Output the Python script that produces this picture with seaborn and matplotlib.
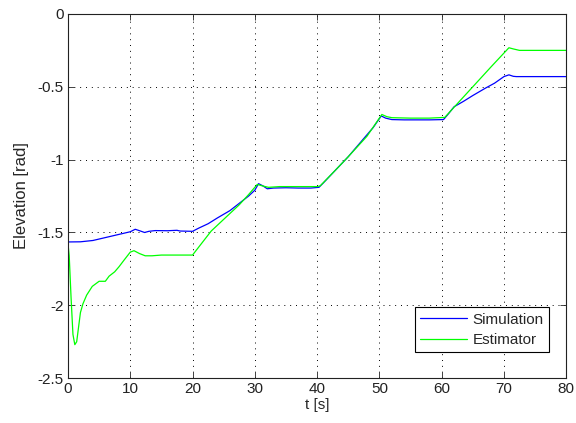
import matplotlib
matplotlib.use("Agg")
import matplotlib.pyplot as plt
import seaborn as sns
import pandas as pd

# --- data ---
sim_t = [0, 2, 4, 6, 8, 10, 10.8, 11.5, 12.3, 13, 14, 16, 17.5, 18, 20, 21, 22.5, 24, 26, 27.5,
         29, 30, 30.6, 31.3, 32, 33, 35, 37, 39, 40.3, 41, 43, 45, 47, 49, 50.3, 51, 52, 54, 56,
         58, 60.3, 61, 62, 63.5, 65, 67, 68.5, 70, 70.8, 71.5, 72, 75, 80]
sim_v = [-1.565, -1.564, -1.555, -1.535, -1.515, -1.495, -1.478, -1.488, -1.50, -1.492, -1.487,
         -1.488, -1.485, -1.49, -1.492, -1.47, -1.44, -1.40, -1.35, -1.30, -1.25, -1.21, -1.165,
         -1.18, -1.20, -1.195, -1.193, -1.195, -1.195, -1.19, -1.16, -1.07, -0.98, -0.88, -0.78,
         -0.70, -0.715, -0.725, -0.727, -0.727, -0.727, -0.725, -0.69, -0.637, -0.6, -0.56, -0.51,
         -0.475, -0.43, -0.418, -0.428, -0.43, -0.43, -0.43]

est_t = [0, 0.2, 0.5, 0.8, 1.1, 1.4, 1.7, 2.0, 2.4, 3, 3.9, 5, 6, 6.6, 7.5, 8.2, 9, 10, 10.6,
         11.5, 12.4, 13.5, 15, 18, 20, 21, 23, 25, 27.5, 29, 30.4, 31.2, 32.2, 34, 37, 40, 40.5,
         43, 45, 48, 50.4, 51.2, 52, 55, 58, 60.5, 62, 65, 68, 70.8, 71.5, 72.5, 80]
est_v = [-1.575, -1.66, -1.95, -2.2, -2.27, -2.25, -2.15, -2.05, -1.99, -1.93, -1.87, -1.835,
         -1.835, -1.8, -1.77, -1.735, -1.69, -1.635, -1.625, -1.645, -1.66, -1.66, -1.655, -1.655,
         -1.655, -1.6, -1.49, -1.41, -1.31, -1.24, -1.17, -1.18, -1.19, -1.185, -1.185, -1.185,
         -1.18, -1.07, -0.98, -0.84, -0.69, -0.705, -0.712, -0.715, -0.715, -0.71, -0.64, -0.5,
         -0.36, -0.232, -0.24, -0.25, -0.25]

series_names = ["Simulation", "Estimator"]
series_colors = ["#0000ff", "#00ff00"]
x_ticks = [0, 10, 20, 30, 40, 50, 60, 70, 80]
y_ticks = [0, -0.5, -1, -1.5, -2, -2.5]
y_tick_labels = ["0", "-0.5", "-1", "-1.5", "-2", "-2.5"]
x_label = "t [s]"
y_label = "Elevation [rad]"

df = pd.concat([
    pd.DataFrame({"t": sim_t, "v": sim_v, "series": series_names[0]}),
    pd.DataFrame({"t": est_t, "v": est_v, "series": series_names[1]}),
], ignore_index=True)

sns.set_style("ticks")
plt.rcParams["font.family"] = ["Liberation Sans", "DejaVu Sans"]
plt.rcParams["axes.unicode_minus"] = False

fs = 11
fig = plt.figure(figsize=(5.76, 4.23), dpi=100)
ax = fig.add_axes([0.118, 0.106, 0.865, 0.861])

sns.lineplot(data=df, x="t", y="v", hue="series", hue_order=series_names,
             palette=series_colors, estimator=None, sort=False, linewidth=0.9, ax=ax)

ax.set_xlim(0, 80)
ax.set_ylim(-2.5, 0)
ax.set_xticks(x_ticks)
ax.set_xticklabels([str(x) for x in x_ticks])
ax.set_yticks(y_ticks)
ax.set_yticklabels(y_tick_labels)
ax.tick_params(direction="in", length=4, width=0.6, labelsize=fs, colors="#222222",
               top=True, right=True, pad=3)
for s in ax.spines.values():
    s.set_visible(True)
    s.set_linewidth(0.8)
    s.set_color("#222222")
ax.grid(True, color="black", linestyle=(0, (1, 5)), linewidth=0.7)
ax.set_xlabel(x_label, fontsize=fs, labelpad=1)
ax.set_ylabel(y_label, fontsize=12, labelpad=6)

handles, labels = ax.get_legend_handles_labels()
leg = ax.legend(handles, labels, loc="lower right", bbox_to_anchor=(0.966, 0.071),
                borderaxespad=0, fontsize=fs, frameon=True, fancybox=False, framealpha=1,
                edgecolor="black", handlelength=3.1, handletextpad=0.35,
                borderpad=0.35, labelspacing=0.4)
leg.get_frame().set_linewidth(0.8)

fig.savefig("out.png", dpi=100)
